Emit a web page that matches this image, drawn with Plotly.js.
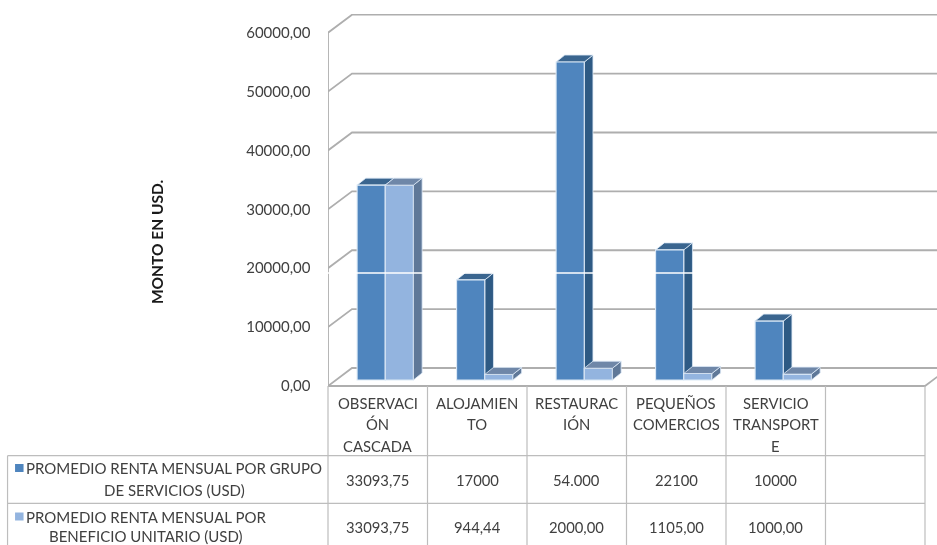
<!DOCTYPE html>
<html><head><meta charset="utf-8">
<script src="https://cdn.plot.ly/plotly-3.0.1.min.js"></script>
<style>html,body{margin:0;padding:0;background:#fff}#c{width:937px;height:545px;filter:blur(0.35px)}</style>
</head><body><div id="c"></div>
<script>
// ---- data ----
const categories = ['OBSERVACIÓN CASCADA','ALOJAMIENTO','RESTAURACIÓN','PEQUEÑOS COMERCIOS','SERVICIO TRANSPORTE'];
const categoryLines = [['OBSERVACI','ÓN','CASCADA'],['ALOJAMIEN','TO'],['RESTAURAC','IÓN'],['PEQUEÑOS','COMERCIOS'],['SERVICIO','TRANSPORT','E']];
const seriesNames = ['PROMEDIO RENTA MENSUAL POR GRUPO DE SERVICIOS (USD)','PROMEDIO RENTA MENSUAL POR BENEFICIO UNITARIO (USD)'];
const seriesLines = [['PROMEDIO RENTA MENSUAL POR GRUPO','DE SERVICIOS (USD)'],['PROMEDIO RENTA MENSUAL POR','BENEFICIO UNITARIO (USD)']];
const groupValues = [33093.75,17000,54000,22100,10000];
const unitValues = [33093.75,944.44,2000,1105,1000];
const groupLabels = ['33093,75','17000','54.000','22100','10000'];
const unitLabels = ['33093,75','944,44','2000,00','1105,00','1000,00'];
const yTicks = [0,10000,20000,30000,40000,50000,60000];
const yTickLabels = ['0,00','10000,00','20000,00','30000,00','40000,00','50000,00','60000,00'];
const yTitle = 'MONTO EN USD.';

// ---- geometry (px of the 937x545 picture) ----
const L=328.3,R=937,T=14,B=470,FLOOR=386,PITCH=99.45,PXU=5.888/1000;
const WALL_DX=24/PITCH, WALL_DY=18/PXU;
const BAR_SX=7.5/PITCH, BAR_SY=6/PXU;
const TOP_DX=8.7/PITCH, TOP_DY=7/PXU;
const BARW=28.15/PITCH;
const xMin=-0.5, xMax=xMin+(R-L)/PITCH;
const yMin=-(B-FLOOR)/PXU, yMax=(FLOOR-T)/PXU;
const px=v=>(v-L)/(R-L), py=v=>(B-v)/(B-T);
const font='Lato, "Open Sans", sans-serif', txt='#404040';
const DARK='#4F85BE',LIGHT='#93B4DF',EDGE='#DCE9F6',GRID='#AEAEAE',TBL='#BDBDBD';
const faces=[{side:'#2E5A84',top:'#3A658F'},{side:'#5F7898',top:'#6F87A8'}];

// ---- shapes ----
const shapes=[];
const path=(pts)=>'M'+pts.map(p=>p[0]+' '+p[1]).join('L');
yTicks.forEach(v=>{
  shapes.push({type:'path',xref:'x',yref:'y',layer:'below',
    path:path([[xMin,v],[xMin+WALL_DX,v+WALL_DY],[xMax+1,v+WALL_DY]]),
    line:{color:GRID,width:1.8}});
});
shapes.push({type:'path',xref:'x',yref:'y',layer:'below',
  path:path([[xMin,0],[xMin,60000]]),line:{color:GRID,width:1.8}});
shapes.push({type:'path',xref:'x',yref:'y',layer:'below',
  path:path([[xMin,0],[xMin+6,0],[xMin+6+WALL_DX,WALL_DY]]),line:{color:GRID,width:1.8}});

function faceShapes(values,s,layer){
  values.forEach((v,i)=>{
    const x0=i-BARW+s*BARW,x1=x0+BARW;
    shapes.push({type:'path',xref:'x2',yref:'y2',layer,
      path:path([[x1,0],[x1+TOP_DX,TOP_DY],[x1+TOP_DX,v+TOP_DY],[x1,v]])+'Z',
      fillcolor:faces[s].side,line:{color:EDGE,width:0.8}});
    shapes.push({type:'path',xref:'x2',yref:'y2',layer,
      path:path([[x0,v],[x0+TOP_DX,v+TOP_DY],[x1+TOP_DX,v+TOP_DY],[x1,v]])+'Z',
      fillcolor:faces[s].top,line:{color:EDGE,width:0.8}});
  });
}
faceShapes(groupValues,0,'below');
faceShapes(unitValues,1,'above');

// scan-line artefact crossing the picture
shapes.push({type:'line',xref:'paper',yref:'paper',layer:'above',x0:px(L-2),x1:1,y0:py(273),y1:py(273),line:{color:'#ffffff',width:1.6}});

// table
const tl=(x0,y0,x1,y1)=>shapes.push({type:'line',xref:'paper',yref:'paper',layer:'above',x0:px(x0),x1:px(x1),y0:py(y0),y1:py(y1),line:{color:TBL,width:1.2}});
const TR=L+6*PITCH,ROW1=455.7,ROW2=503.3,TL=8,BOT=546;
for(let c=0;c<=6;c++) tl(L+c*PITCH,FLOOR,L+c*PITCH,BOT);
tl(TL,ROW1,TR,ROW1); tl(TL,ROW2,TR,ROW2); tl(TL,ROW1,TL,BOT);
[[464,DARK],[512.5,LIGHT]].forEach(([y,c])=>shapes.push({type:'rect',xref:'paper',yref:'paper',layer:'above',
  x0:px(15.5),x1:px(24),y0:py(y),y1:py(y+8),fillcolor:c,line:{width:0}}));

// ---- text ----
const annotations=[];
const note=(text,x,y,size)=>annotations.push({text,xref:'paper',yref:'paper',x:px(x),y:py(y),xanchor:'center',yanchor:'middle',showarrow:false,font:{family:font,size:size||14.8,color:txt}});
categoryLines.forEach((lines,i)=>lines.forEach((t,j)=>note(t,L+(i+0.5)*PITCH,403+j*21.4)));
groupLabels.forEach((t,i)=>note(t,L+(i+0.5)*PITCH,480));
unitLabels.forEach((t,i)=>note(t,L+(i+0.5)*PITCH,527));
note(seriesLines[0][0],174.5,468,15); note(seriesLines[0][1],174.5,490,15);
note(seriesLines[1][0],146.5,516.5,15); note(seriesLines[1][1],146.5,535.5,15);

// ---- traces ----
const edge={color:EDGE,width:1.1};
const traces=[
 {type:'scatter',x:[],y:[],xaxis:'x',yaxis:'y',showlegend:false,hoverinfo:'skip'},
 {type:'bar',name:seriesNames[0],x:categories,y:groupValues,xaxis:'x2',yaxis:'y2',marker:{color:DARK,line:edge},showlegend:false},
 {type:'bar',name:seriesNames[1],x:categories,y:unitValues,xaxis:'x2',yaxis:'y2',marker:{color:LIGHT,line:edge},showlegend:false}
];
const layout={
 width:937,height:545,margin:{l:L,r:0,t:T,b:545-B,pad:0},
 paper_bgcolor:'#fff',plot_bgcolor:'#fff',
 barmode:'group',bargap:1-2*BARW,bargroupgap:0,showlegend:false,
 xaxis:{type:'linear',range:[xMin,xMax],visible:false,fixedrange:true},
 yaxis:{type:'linear',range:[yMin,yMax],tickmode:'array',tickvals:yTicks,ticktext:yTickLabels,
   showgrid:false,zeroline:false,showline:false,ticks:'outside',ticklen:13.5,tickcolor:'rgba(0,0,0,0)',
   tickfont:{family:font,size:15,color:txt},automargin:false,fixedrange:true,
   title:{text:yTitle,standoff:78,font:{family:font,size:15.5,color:'#1a1a1a',weight:700}}},
 xaxis2:{type:'category',categoryorder:'array',categoryarray:categories,overlaying:'x',anchor:'y2',
   range:[xMin-BAR_SX,xMax-BAR_SX],visible:false,fixedrange:true},
 yaxis2:{type:'linear',overlaying:'y',anchor:'x2',range:[yMin-BAR_SY,yMax-BAR_SY],visible:false,fixedrange:true},
 shapes,annotations
};
Plotly.newPlot('c',traces,layout,{displayModeBar:false,staticPlot:true});
</script></body></html>
